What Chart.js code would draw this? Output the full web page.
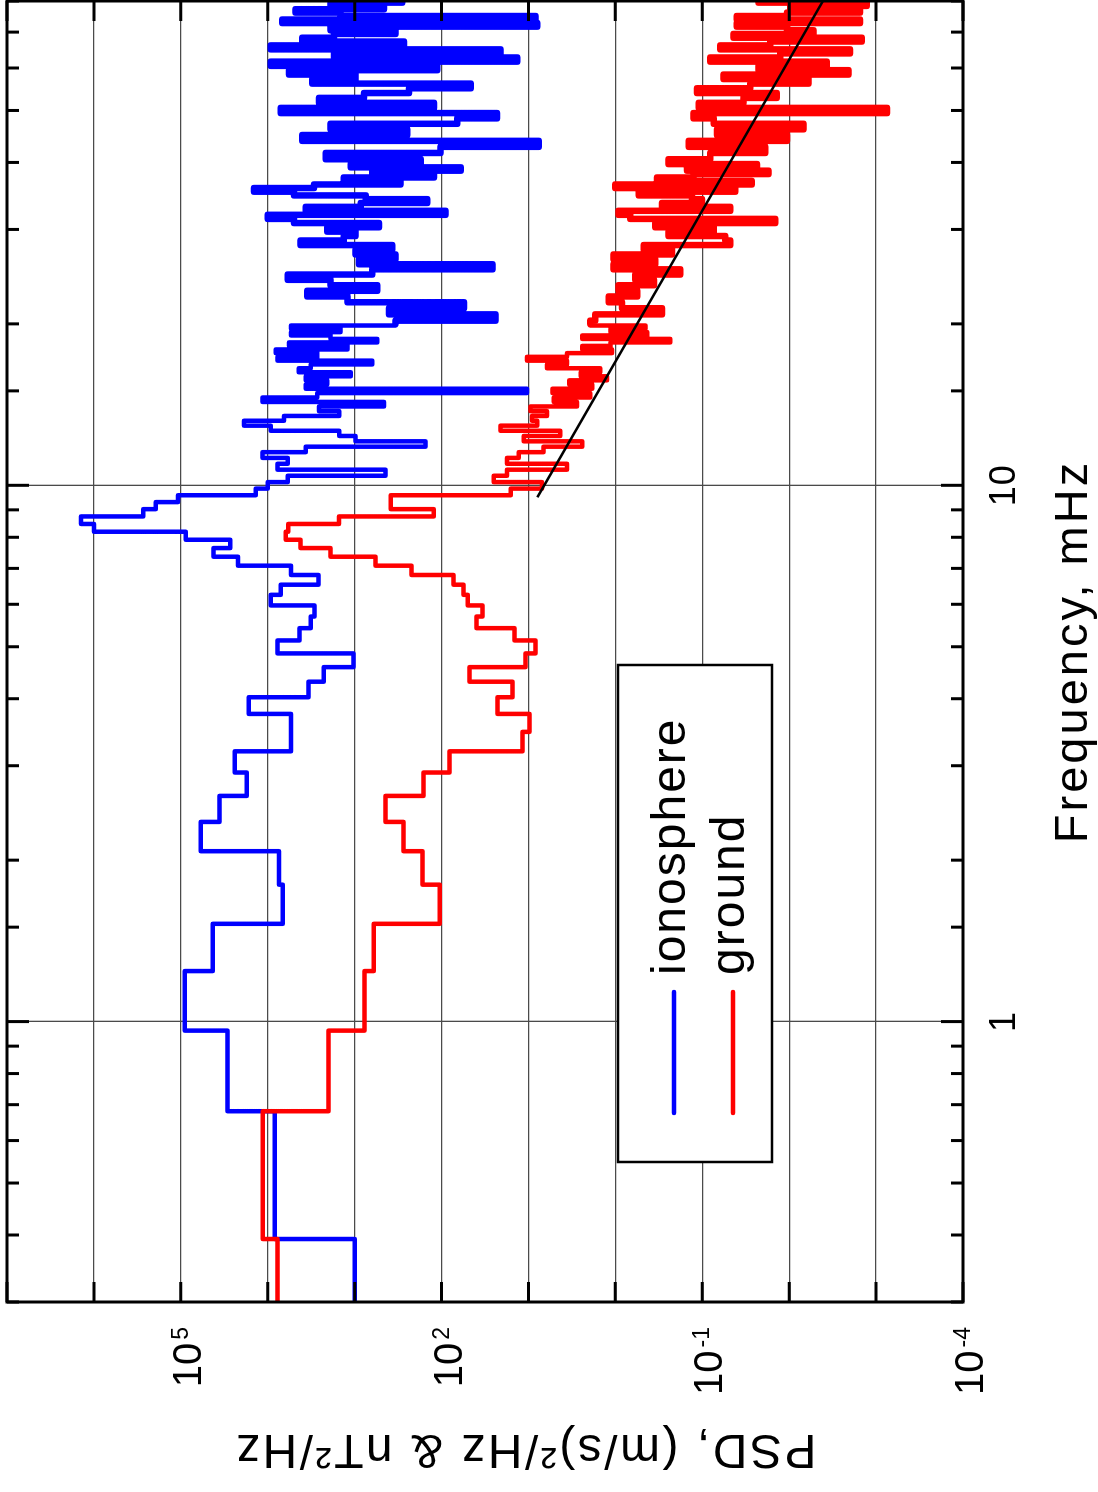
<!DOCTYPE html>
<html>
<head>
<meta charset="utf-8">
<title>PSD ionosphere / ground</title>
<script src="https://cdn.jsdelivr.net/npm/chart.js@4.4.1/dist/chart.umd.min.js"></script>
<style>
  html, body { margin: 0; padding: 0; background: #fff; overflow: hidden; }
  /* chart is drawn in normal orientation, then the page is turned 90deg */
  #page { position: absolute; left: 0; top: 0; width: 1492px; height: 1098px;
          transform-origin: 0 0; transform: translate(0, 1492px) rotate(-90deg); }
</style>
</head>
<body>
<div id="page"><canvas id="psdChart" width="1492" height="1098"></canvas></div>
<script>
// ==================== DATA ====================
// spectral bins, mHz (0.278 mHz spacing; above 20 mHz every 2nd / 4th bin read)
const lfFreq = [0.278, 0.556, 0.833, 1.111, 1.389, 1.667, 1.944, 2.222, 2.5, 2.778,
    3.056, 3.333, 3.611, 3.889, 4.167, 4.444, 4.722, 5.0, 5.278, 5.556,
    5.833, 6.111, 6.389, 6.667, 6.944, 7.222, 7.5, 7.778, 8.056, 8.333,
    8.611, 8.889, 9.167, 9.444, 9.722, 10.0];
const mfFreq = [10.28, 10.56, 10.83, 11.11, 11.39, 11.67, 11.94, 12.22, 12.5, 12.78,
    13.06, 13.33, 13.61, 13.89, 14.17, 14.44, 14.72, 15.0, 15.28, 15.56,
    15.83, 16.11, 16.39, 16.67, 16.94, 17.22, 17.5, 17.78, 18.06, 18.33,
    18.61, 18.89, 19.17, 19.44, 19.72, 20.0];
const hfFreq = [20.56, 21.11, 21.67, 22.22, 22.78, 23.33, 23.89, 24.44, 25.0, 25.56,
    26.11, 26.67, 27.22, 27.78, 28.33, 28.89, 29.44, 30.0, 30.56, 31.11,
    31.67, 32.22, 32.78, 33.33, 33.89, 34.44, 35.0, 35.56, 36.11, 36.67,
    37.22, 37.78, 38.33, 38.89, 39.44, 40.0,
    41.11, 42.22, 43.33, 44.44, 45.56, 46.67, 47.78, 48.89, 50.0, 51.11,
    52.22, 53.33, 54.44, 55.56, 56.67, 57.78, 58.89, 60.0, 61.11, 62.22,
    63.33, 64.44, 65.56, 66.67, 67.78, 68.89, 70.0, 71.11, 72.22, 73.33,
    74.44, 75.56, 76.67, 77.78, 78.89, 80.0];

// ionosphere, (m/s)^2/Hz
const lfIono = [1.0e3, 8.3e3, 2.9e4, 9.0e4, 4.3e4, 6.7e3, 7.4e3, 5.9e4, 3.6e4, 1.74e4,
    2.4e4, 5.4e3, 5.4e3, 1.65e4, 3.4e3, 2.27e3, 1.03e3, 7.7e3, 4.3e3, 3.2e3,
    2.9e3, 9.2e3, 7.1e3, 2.6e3, 5.4e3, 2.2e4, 4.2e4, 2.7e4, 8.8e4, 1.0e6,
    1.41e6, 2.7e5, 1.94e5, 1.08e5, 1.37e4, 1.0e4];
const mfIono = [5.9e3, 441, 7.7e3, 5.9e3, 1.15e4, 3.66e3, 153, 975, 1.5e3, 9.2e3,
    1.87e4, 6.5e3, 1.5e3, 2.57e3, 460, 1.15e4, 2.7e3, 10.4, 3.66e3, 2.06e3,
    3.66e3, 1.11e3, 4.4e3, 3.2e3, 627, 7.7e3, 2.7e3, 8.1e3, 1.21e3, 5.7e3,
    548, 1.89e3, 5.4e3, 1.45e3, 5.4e3, 338];
const hfIono = [24, 403, 55, 1.21e3, 3.5e3, 548, 1.89e3, 5.9e3, 627, 26,
    892, 338, 975, 369, 4.2e3, 1.33e3, 975, 2.06e3, 525, 5.0e3,
    1.0e4, 90, 3.66e3, 853, 146, 747, 5.0e3, 1.44e4, 2.93e3, 296,
    1.33e3, 122, 627, 60, 1.11e3, 174,
    2.15e3, 103, 7.6, 4.0e3, 248, 1.89e3, 66, 23, 7.1e3, 122,
    2.57e3, 781, 237, 46, 3.07e3, 975, 5.7e3, 112, 9.2e3, 13.5,
    1.73e3, 21, 9.2e3, 271, 4.0e3, 1.73e3, 338, 1.89e3, 7.9, 6.8e3,
    8.3, 1.45e3, 4.8e3, 460, 1.89e3, 283];

// ground, nT^2/Hz
const lfGround = [7.7e3, 1.14e4, 2.0e3, 768, 604, 105, 166, 274, 440, 161,
    81, 11.7, 9.7, 22.7, 15.3, 47.6, 10.8, 8.3, 14.5, 39.6,
    33.8, 50, 55.8, 72.8, 221, 575, 1.89e3, 4.2e3, 6.2e3, 5.8e3,
    1.51e3, 123, 385, 385, 16, 7.0];
const mfGround = [25, 17.6, 3.6, 17.6, 12.9, 6.7, 2.4, 11.3, 4.3, 21,
    7.9, 9.1, 6.1, 9.5, 2.76, 5.1, 1.94, 5.3, 1.85, 3.4,
    1.25, 2.5, 1.49, 6.1, 3.6, 10.4, 3.6, 1.09, 2.4, 1.14,
    0.233, 2.4, 0.43, 1.14, 0.45, 1.94];
const hfGround = [1.70, 0.291, 0.84, 1.19, 0.56, 0.92, 0.36, 0.59, 0.179, 1.05,
    0.347, 1.05, 0.223, 0.472, 0.0476, 0.0544, 0.244, 0.074, 0.347, 0.0145,
    0.673, 0.92, 0.0476, 0.291, 0.101, 0.131, 0.539, 0.0418, 1.0, 0.0269,
    0.332, 0.126, 0.0173, 0.15, 0.0235, 0.244,
    0.081, 0.0189, 0.1435, 0.0106, 0.0678, 0.00684, 0.074, 0.126, 0.00075, 0.110,
    0.0335, 0.0139, 0.115, 0.0281, 0.006, 0.0569, 0.00208, 0.0225, 0.00369, 0.081,
    0.0127, 0.00199, 0.062, 0.0165, 0.00146, 0.0437, 0.00525, 0.0106, 0.04, 0.00153,
    0.04, 0.0106, 0.00153, 0.0097, 0.00128, 0.0225];

// power-law fit over the ground spectrum
const fitFreq = [9.5, 80];
const fitPsd = [7.9, 0.0041];

const seriesNames = ['ionosphere', 'ground'];
const seriesColors = ['#0000ff', '#ff0000'];
const freqTickLabels = [1, 10];
const psdTickExponents = [5, 2, -1, -4];

// ==================== HELPERS ====================
const FONT = '"Liberation Sans", Arial, Helvetica, sans-serif';

function toPoints(xs, ys) {
    return xs.map((x, i) => ({ x: x, y: ys[i] }));
}

function isDecade(v) {
    const l = Math.log10(v);
    return Math.abs(l - Math.round(l)) < 1e-6;
}

const freqAll = lfFreq.concat(mfFreq, hfFreq);
const ionoAll = lfIono.concat(mfIono, hfIono);
const groundAll = lfGround.concat(mfGround, hfGround);

// above 20 mHz the real bins are packed so tight that the trace reads as solid bars
const denseSegment = { borderWidth: ctx => ctx.p0.parsed.x >= 20 ? 6.5 : undefined };

// ==================== FRAME / LABELS PLUGIN ====================
const framePlugin = {
    id: 'framePlugin',
    afterDatasetsDraw(chart) {
        const { ctx, chartArea: a, scales: { x, y } } = chart;
        ctx.save();

        // inward ticks on all four sides
        ctx.strokeStyle = '#000';
        ctx.lineWidth = 3;
        ctx.beginPath();
        x.ticks.forEach(t => {
            const px = x.getPixelForValue(t.value);
            const len = isDecade(t.value) ? 22 : 12;
            ctx.moveTo(px, a.bottom); ctx.lineTo(px, a.bottom - len);
            ctx.moveTo(px, a.top); ctx.lineTo(px, a.top + len);
        });
        y.ticks.filter(t => isDecade(t.value)).forEach(t => {
            const py = y.getPixelForValue(t.value);
            ctx.moveTo(a.left, py); ctx.lineTo(a.left + 20, py);
            ctx.moveTo(a.right, py); ctx.lineTo(a.right - 20, py);
        });
        ctx.stroke();
        ctx.strokeRect(a.left, a.top, a.right - a.left, a.bottom - a.top);

        // legend box
        ctx.fillStyle = '#fff';
        ctx.fillRect(330, 618, 497, 154);
        ctx.lineWidth = 2.5;
        ctx.strokeRect(330, 618, 497, 154);
        ctx.font = '48px ' + FONT;
        ctx.letterSpacing = '2px';
        ctx.textAlign = 'left';
        ctx.textBaseline = 'alphabetic';
        const rows = [674, 733];
        seriesNames.forEach((name, i) => {
            ctx.strokeStyle = seriesColors[i];
            ctx.lineWidth = 4.5;
            ctx.lineCap = 'round';
            ctx.beginPath();
            ctx.moveTo(379, rows[i]);
            ctx.lineTo(500, rows[i]);
            ctx.stroke();
            ctx.fillStyle = '#000';
            ctx.fillText(name, 517, rows[i] + 11);
        });
        ctx.restore();
    },
    afterDraw(chart) {
        const { ctx, chartArea: a, scales: { x, y } } = chart;
        ctx.save();
        ctx.fillStyle = '#000';
        ctx.textBaseline = 'alphabetic';

        // frequency tick labels
        ctx.font = '36px ' + FONT;
        ctx.letterSpacing = '1px';
        ctx.textAlign = 'center';
        freqTickLabels.forEach(v => {
            ctx.fillText(String(v), x.getPixelForValue(v), a.bottom + 52);
        });

        // frequency title
        ctx.font = '47px ' + FONT;
        ctx.letterSpacing = '3px';
        ctx.fillText('Frequency, mHz', (a.left + a.right) / 2, 1087);

        // PSD tick labels, 10 with raised exponent
        ctx.letterSpacing = '0px';
        psdTickExponents.forEach(e => {
            const py = y.getPixelForValue(Math.pow(10, e));
            const exp = String(e);
            ctx.textAlign = 'right';
            ctx.font = '23px ' + FONT;
            const w = ctx.measureText(exp).width;
            ctx.fillText(exp, 165, py + 7);
            ctx.font = '40px ' + FONT;
            ctx.fillText('10', 165 - w - 3, py + 20);
        });

        // PSD title
        ctx.translate(57, 525);
        ctx.rotate(-Math.PI / 2);
        ctx.font = '48px ' + FONT;
        ctx.letterSpacing = '2.5px';
        ctx.textAlign = 'center';
        ctx.fillText('PSD, (m/s)\u00B2/Hz & nT\u00B2/Hz', 0, 0);
        ctx.restore();
    }
};

// ==================== CHART ====================
const gridColor = ctx => isDecade(ctx.tick.value) ? '#4a4a4a' : 'rgba(0,0,0,0)';

new Chart(document.getElementById('psdChart'), {
    type: 'line',
    data: {
        datasets: [
            { label: 'fit', data: toPoints(fitFreq, fitPsd), borderColor: '#000', borderWidth: 2.5,
              pointRadius: 0, fill: false, order: 0 },
            { label: seriesNames[0], data: toPoints(freqAll, ionoAll), borderColor: seriesColors[0],
              borderWidth: 4.5, stepped: 'middle', pointRadius: 0, fill: false, order: 2,
              borderJoinStyle: 'round', borderCapStyle: 'round', segment: denseSegment },
            { label: seriesNames[1], data: toPoints(freqAll, groundAll), borderColor: seriesColors[1],
              borderWidth: 4.5, stepped: 'middle', pointRadius: 0, fill: false, order: 1,
              borderJoinStyle: 'round', borderCapStyle: 'round', segment: denseSegment }
        ]
    },
    options: {
        responsive: false,
        animation: false,
        layout: { padding: { left: 190, right: 1, top: 7, bottom: 135 } },
        plugins: { legend: { display: false }, tooltip: { enabled: false } },
        scales: {
            x: {
                type: 'logarithmic', min: 0.3, max: 80,
                ticks: { display: false, autoSkip: false },
                grid: { drawTicks: false, color: gridColor, lineWidth: 1.3 },
                border: { display: false },
                afterFit: s => { s.height = 0; }
            },
            y: {
                type: 'logarithmic', min: 1e-4, max: 1e7,
                ticks: { display: false, autoSkip: false },
                grid: { drawTicks: false, color: gridColor, lineWidth: 1.3 },
                border: { display: false },
                afterFit: s => { s.width = 0; }
            }
        }
    },
    plugins: [framePlugin]
});
</script>
</body>
</html>
